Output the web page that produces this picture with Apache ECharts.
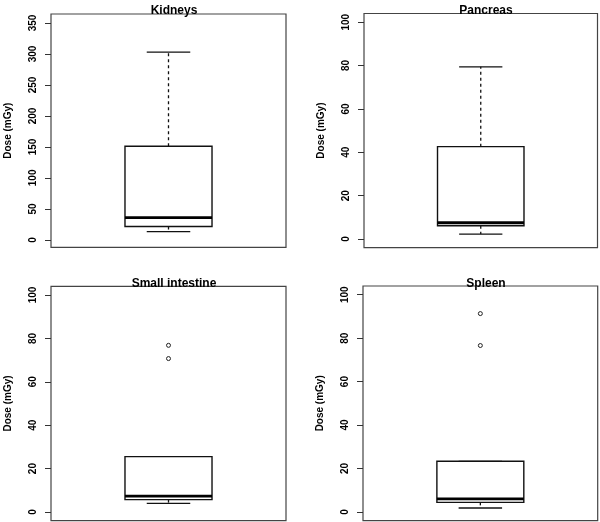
<!DOCTYPE html>
<html>
<head>
<meta charset="utf-8">
<script src="https://cdn.jsdelivr.net/npm/echarts@6/dist/echarts.min.js"></script>
<style>
html,body{margin:0;padding:0;background:#fff;}
#c{width:600px;height:522px;}
</style>
</head>
<body>
<div id="c"></div>
<script>
// ---- data ----
const panels = ["Kidneys", "Pancreas", "Small intestine", "Spleen"];
const lowerWhisker = [13.4, 2.3, 4.0, 1.8];
const lowerQuartile = [21.5, 6.1, 5.7, 4.4];
const medians = [36, 7.5, 7.3, 6.0];
const upperQuartile = [151, 42.6, 25.5, 23.3];
const upperWhisker = [303, 79.4, 25.5, 23.3];
const outliers = [[], [], [70.7, 76.8], [76.6, 91.3]];
const kidneyTicks = [0, 50, 100, 150, 200, 250, 300, 350];
const doseTicks = [0, 20, 40, 60, 80, 100];
const axisName = "Dose (mGy)";

// ---- layout ----
const grids = [
  {left: 51, top: 14, width: 235, height: 233.3},
  {left: 364, top: 13.5, width: 233.5, height: 234.2},
  {left: 51, top: 286.3, width: 235, height: 234.4},
  {left: 363, top: 286, width: 234.7, height: 234.6}
];
const yRanges = [[-12, 364.5], [-4, 104], [-4, 104], [-4, 104]];
const tickSets = [kidneyTicks, doseTicks, doseTicks, doseTicks];
const titlePos = [[169, 0], [481, 0], [169, 273], [481, 273]];

function renderBox(params, api) {
  const x = api.value(0);
  const lo = api.coord([x, api.value(1)]);
  const q1 = api.coord([x, api.value(2)]);
  const md = api.coord([x, api.value(3)]);
  const q3 = api.coord([x, api.value(4)]);
  const hi = api.coord([x, api.value(5)]);
  const boxW = api.size([0.4, 0])[0];
  const capW = api.size([0.2, 0])[0];
  const cx = lo[0];
  const stroke = '#111';
  const children = [
    {type: 'line', shape: {x1: cx, y1: q3[1], x2: cx, y2: hi[1]},
     style: {stroke: stroke, lineWidth: 1.3, lineDash: [3, 3]}},
    {type: 'line', shape: {x1: cx, y1: q1[1], x2: cx, y2: lo[1]},
     style: {stroke: stroke, lineWidth: 1.3, lineDash: [3, 3]}},
    {type: 'line', shape: {x1: cx - capW / 2, y1: hi[1], x2: cx + capW / 2, y2: hi[1]},
     style: {stroke: stroke, lineWidth: 1.3}},
    {type: 'line', shape: {x1: cx - capW / 2, y1: lo[1], x2: cx + capW / 2, y2: lo[1]},
     style: {stroke: stroke, lineWidth: 1.3}},
    {type: 'rect', shape: {x: cx - boxW / 2, y: q3[1], width: boxW, height: q1[1] - q3[1]},
     style: {fill: '#fff', stroke: stroke, lineWidth: 1.4}},
    {type: 'line', shape: {x1: cx - boxW / 2, y1: md[1], x2: cx + boxW / 2, y2: md[1]},
     style: {stroke: '#000', lineWidth: 2.8}}
  ];
  return {type: 'group', children: children};
}

const option = {
  backgroundColor: '#fff',
  animation: false,
  title: panels.map((p, i) => ({
    text: p, left: titlePos[i][0], top: titlePos[i][1], textAlign: 'center',
    textStyle: {fontFamily: 'Liberation Sans, Arial, sans-serif', fontWeight: 'bold', fontSize: 12, color: '#000'}
  })),
  grid: grids.map(g => Object.assign({show: true, borderColor: '#444', borderWidth: 1.2, backgroundColor: 'transparent'}, g)),
  xAxis: panels.map((p, i) => ({
    type: 'value', gridIndex: i, min: 0.46, max: 1.54, show: false
  })),
  yAxis: panels.map((p, i) => ({
    type: 'value', gridIndex: i, min: yRanges[i][0], max: yRanges[i][1],
    name: axisName, nameLocation: 'middle', nameGap: 38, nameRotate: 90,
    nameTextStyle: {fontFamily: 'Liberation Sans, Arial, sans-serif', fontWeight: 'bold', fontSize: 10, color: '#000'},
    axisLine: {show: false},
    splitLine: {show: false},
    axisTick: {show: true, length: 6, customValues: tickSets[i], lineStyle: {color: '#333', width: 1}},
    axisLabel: {show: true, rotate: 90, margin: 13, customValues: tickSets[i],
      fontFamily: 'Liberation Sans, Arial, sans-serif', fontWeight: 'bold', fontSize: 10, color: '#000'}
  })),
  series: []
};

panels.forEach((p, i) => {
  option.series.push({
    type: 'custom', xAxisIndex: i, yAxisIndex: i,
    renderItem: renderBox,
    encode: {x: 0, y: [1, 2, 3, 4, 5]},
    data: [[1, lowerWhisker[i], lowerQuartile[i], medians[i], upperQuartile[i], upperWhisker[i]]],
    z: 2
  });
  if (outliers[i].length) {
    option.series.push({
      type: 'scatter', xAxisIndex: i, yAxisIndex: i,
      symbol: 'circle', symbolSize: 4,
      itemStyle: {color: '#fff', borderColor: '#222', borderWidth: 1, opacity: 1},
      data: outliers[i].map(v => [1, v]),
      z: 5
    });
  }
});

const chart = echarts.init(document.getElementById('c'), null, {renderer: 'canvas'});
chart.setOption(option);
</script>
</body>
</html>
